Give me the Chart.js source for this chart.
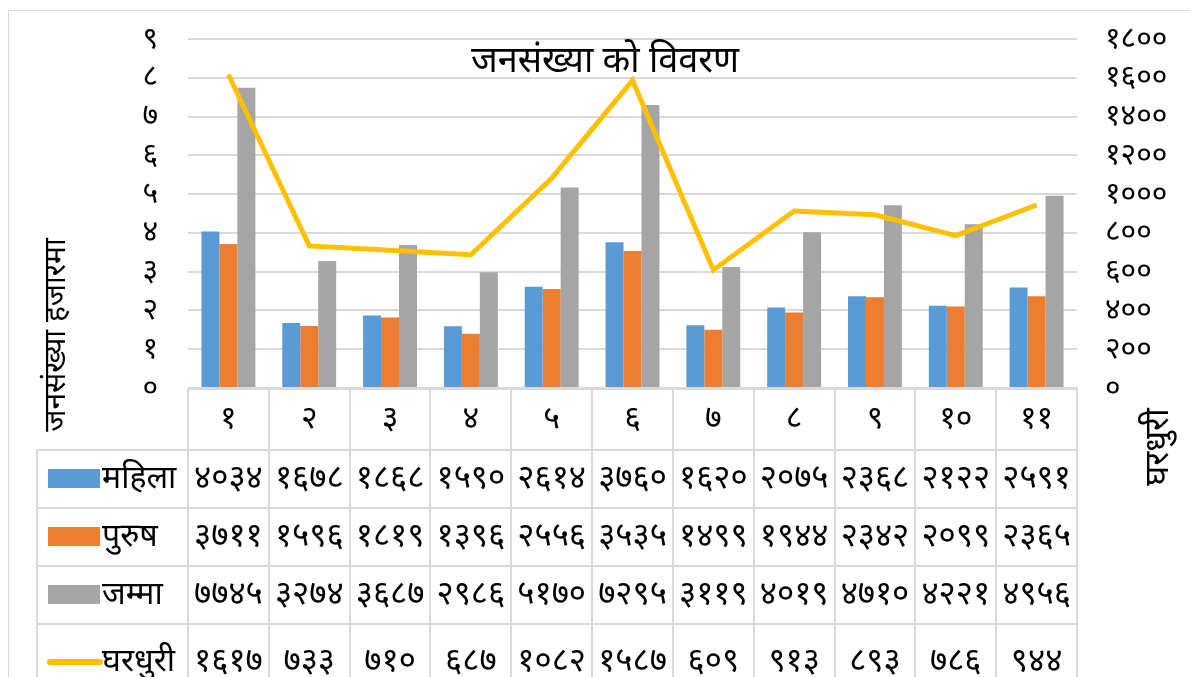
<!DOCTYPE html>
<html>
<head>
<meta charset="utf-8">
<script src="https://cdn.jsdelivr.net/npm/chart.js@4.4.1/dist/chart.umd.min.js"></script>
<style>
  html, body { margin: 0; padding: 0; background: #fff; }
  #wrap { width: 1190px; height: 677px; position: relative; }
</style>
</head>
<body>
<div id="wrap"><canvas id="populationChart"></canvas></div>
<script>
// Dados do gráfico
const categories = ['१', '२', '३', '४', '५', '६', '७', '८', '९', '१०', '११'];
const mahila   = [4034, 1678, 1868, 1590, 2614, 3760, 1620, 2075, 2368, 2122, 2591];
const purush   = [3711, 1596, 1819, 1396, 2556, 3535, 1499, 1944, 2342, 2099, 2365];
const jamma    = [7745, 3274, 3687, 2986, 5170, 7295, 3119, 4019, 4710, 4221, 4956];
const gharduri = [1617, 733, 710, 687, 1082, 1587, 609, 913, 893, 786, 944];

const seriesNames = ['महिला', 'पुरुष', 'जम्मा', 'घरधुरी'];
const chartTitle = 'जनसंख्या को विवरण';
const leftAxisTitle = 'जनसंख्या हजारमा';
const rightAxisTitle = 'घरधुरी';

const FONT = "'Noto Sans', 'DejaVu Sans', sans-serif";
const GRID = '#d9d9d9';
const colors = ['#5b9bd5', '#ed7d31', '#a5a5a5', '#ffc000'];

const devDigits = '०१२३४५६७८९';
function toDev(n) {
    return String(n).replace(/[0-9]/g, d => devDigits[d]);
}

// ── Tabela de dados + títulos (desenhados com a escala x) ─────────────────
const tablePlugin = {
    id: 'tablePlugin',
    beforeDraw(chart) {
        const ctx = chart.ctx;
        ctx.save();
        ctx.strokeStyle = GRID;
        ctx.lineWidth = 1;
        ctx.strokeRect(8.5, 10.5, 1200, 700);
        ctx.restore();
    },
    afterDraw(chart) {
        const ctx = chart.ctx;
        const x = chart.scales.x;
        const area = chart.chartArea;
        const n = categories.length;
        const colW = x.getPixelForValue(1) - x.getPixelForValue(0);
        const rowTops = [area.bottom, 450, 508, 566, 624, 700];
        const legendLeft = 37;

        ctx.save();
        ctx.strokeStyle = GRID;
        ctx.lineWidth = 2;
        // linha do eixo x
        ctx.beginPath();
        ctx.moveTo(area.left, area.bottom + 1);
        ctx.lineTo(area.right, area.bottom + 1);
        ctx.stroke();
        // linhas verticais
        for (let i = 0; i <= n; i++) {
            const px = Math.round(x.getPixelForValue(i) - colW / 2);
            ctx.beginPath();
            ctx.moveTo(px, area.bottom);
            ctx.lineTo(px, 677);
            ctx.stroke();
        }
        ctx.beginPath();
        ctx.moveTo(legendLeft, rowTops[1]);
        ctx.lineTo(legendLeft, 677);
        ctx.stroke();
        // linhas horizontais
        for (let r = 1; r <= 4; r++) {
            ctx.beginPath();
            ctx.moveTo(legendLeft, rowTops[r]);
            ctx.lineTo(area.right, rowTops[r]);
            ctx.stroke();
        }

        ctx.fillStyle = '#000';
        ctx.textAlign = 'center';
        ctx.textBaseline = 'middle';
        ctx.font = '32px ' + FONT;
        categories.forEach((c, i) => {
            ctx.fillText(c, x.getPixelForValue(i), (rowTops[0] + rowTops[1]) / 2);
        });

        const rows = [mahila, purush, jamma, gharduri];
        rows.forEach((vals, r) => {
            const cy = (rowTops[r + 1] + rowTops[r + 2]) / 2;
            ctx.font = '33px ' + FONT;
            vals.forEach((v, i) => {
                ctx.fillText(toDev(v), x.getPixelForValue(i), cy);
            });
            // chave da legenda
            if (r < 3) {
                ctx.fillStyle = colors[r];
                ctx.fillRect(48, cy - 10, 52, 19);
            } else {
                ctx.strokeStyle = colors[3];
                ctx.lineWidth = 6;
                ctx.lineCap = 'round';
                ctx.beginPath();
                ctx.moveTo(50, cy);
                ctx.lineTo(100, cy);
                ctx.stroke();
            }
            ctx.fillStyle = '#000';
            ctx.textAlign = 'left';
            ctx.font = '32px ' + FONT;
            ctx.fillText(seriesNames[r], 102, cy);
            ctx.textAlign = 'center';
        });

        // título
        ctx.font = '36px ' + FONT;
        ctx.fillText(chartTitle, 605, 62);

        // títulos dos eixos
        ctx.font = '30px ' + FONT;
        ctx.save();
        ctx.translate(56, 335);
        ctx.rotate(-Math.PI / 2);
        ctx.fillText(leftAxisTitle, 0, 0);
        ctx.restore();
        ctx.font = '34px ' + FONT;
        ctx.save();
        ctx.translate(1158, 447);
        ctx.rotate(-Math.PI / 2);
        ctx.fillText(rightAxisTitle, 0, 0);
        ctx.restore();
        ctx.restore();
    }
};

function fixSide(width) {
    return function (scale) {
        scale.width = width;
        scale.paddingTop = 0;
        scale.paddingBottom = 0;
    };
}

const ctx = document.getElementById('populationChart').getContext('2d');
const populationChart = new Chart(ctx, {
    data: {
        labels: categories,
        datasets: [
            {
                type: 'line',
                label: seriesNames[3],
                data: gharduri,
                borderColor: colors[3],
                borderWidth: 5,
                pointRadius: 0,
                tension: 0,
                yAxisID: 'y1',
                order: 0
            },
            {
                type: 'bar',
                label: seriesNames[0],
                data: mahila.map(v => v / 1000),
                backgroundColor: colors[0],
                yAxisID: 'y',
                order: 1
            },
            {
                type: 'bar',
                label: seriesNames[1],
                data: purush.map(v => v / 1000),
                backgroundColor: colors[1],
                yAxisID: 'y',
                order: 1
            },
            {
                type: 'bar',
                label: seriesNames[2],
                data: jamma.map(v => v / 1000),
                backgroundColor: colors[2],
                yAxisID: 'y',
                order: 1
            }
        ]
    },
    options: {
        responsive: true,
        maintainAspectRatio: false,
        animation: false,
        layout: { padding: { left: 0, right: 0, top: 39, bottom: 289 } },
        datasets: {
            bar: { categoryPercentage: 0.667, barPercentage: 1.0 }
        },
        plugins: {
            legend: { display: false },
            title: { display: false },
            tooltip: { enabled: false }
        },
        scales: {
            x: { display: false },
            y: {
                position: 'left',
                min: 0,
                max: 9,
                afterFit: fixSide(188),
                border: { display: false },
                grid: { color: GRID, lineWidth: 2, drawTicks: false },
                ticks: {
                    stepSize: 1,
                    padding: 30,
                    autoSkip: false,
                    color: '#000',
                    font: { family: FONT, size: 30 },
                    callback: v => toDev(v)
                }
            },
            y1: {
                position: 'right',
                min: 0,
                max: 1800,
                afterFit: fixSide(113),
                border: { display: false },
                grid: { drawOnChartArea: false, drawTicks: false },
                ticks: {
                    stepSize: 200,
                    padding: 28,
                    autoSkip: false,
                    color: '#000',
                    font: { family: FONT, size: 30 },
                    callback: v => toDev(v)
                }
            }
        }
    },
    plugins: [tablePlugin]
});
</script>
</body>
</html>
